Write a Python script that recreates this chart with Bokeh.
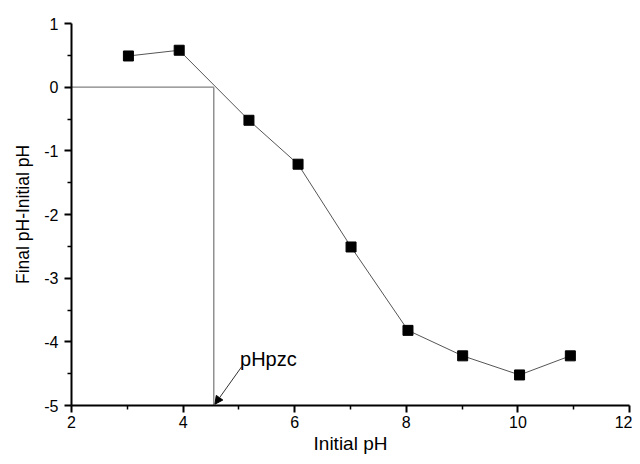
from bokeh.plotting import figure
from bokeh.models import Range1d, Arrow, NormalHead, Label, FixedTicker
from bokeh.embed import file_html
from bokeh.resources import INLINE

initial_ph = [3.02, 3.93, 5.18, 6.06, 7.01, 8.03, 9.01, 10.03, 10.94]
delta_ph = [0.49, 0.58, -0.52, -1.21, -2.51, -3.82, -4.22, -4.52, -4.22]
ph_pzc = 4.55
x_ticks = [2, 4, 6, 8, 10, 12]
y_ticks = [-5, -4, -3, -2, -1, 0, 1]

FONT = "Liberation Sans"

p = figure(width=632, height=456, output_backend="svg", toolbar_location=None,
           x_range=Range1d(2, 12), y_range=Range1d(-5, 1),
           min_border_left=71, min_border_right=3, min_border_top=23, min_border_bottom=51)
p.outline_line_color = None
p.xgrid.visible = False
p.ygrid.visible = False
p.background_fill_color = "white"

# reference lines for pHpzc
p.line([2, ph_pzc], [0, 0], line_color="#808080", line_width=1.3)
p.line([ph_pzc, ph_pzc], [0, -5], line_color="#808080", line_width=1.3)

p.line(initial_ph, delta_ph, line_color="#555555", line_width=1)
p.scatter(initial_ph, delta_ph, marker="square", size=10, fill_color="black", line_color="black")

p.add_layout(Arrow(end=NormalHead(size=8, fill_color="black", line_color="black", line_width=1),
                   x_start=5.05, y_start=-4.39, x_end=ph_pzc + 0.02, y_end=-4.98,
                   line_color="#333333", line_width=1))
p.add_layout(Label(x=5.02, y=-4.27, text="pHpzc", text_font=FONT, text_font_size="20px",
                   text_baseline="middle", text_align="left", text_color="black"))

for ax in (p.xaxis[0], p.yaxis[0]):
    ax.axis_line_width = 2
    ax.axis_line_color = "black"
    ax.major_tick_line_width = 2
    ax.minor_tick_line_width = 1.5
    ax.major_tick_out = 7
    ax.major_tick_in = 0
    ax.minor_tick_out = 4
    ax.minor_tick_in = 0
    ax.major_label_text_font = FONT
    ax.major_label_text_font_size = "16px"
    ax.major_label_text_color = "black"
    ax.axis_label_text_font = FONT
    ax.axis_label_text_font_style = "normal"
    ax.axis_label_text_color = "black"

p.xaxis.axis_label_text_font_size = "19px"
p.yaxis.axis_label_text_font_size = "17.5px"
p.xaxis.ticker = FixedTicker(ticks=x_ticks, minor_ticks=[3, 5, 7, 9, 11])
p.yaxis.ticker = FixedTicker(ticks=y_ticks, minor_ticks=[-4.5, -3.5, -2.5, -1.5, -0.5, 0.5])
p.xaxis.major_label_overrides = {t: str(t) for t in x_ticks}
p.yaxis.major_label_overrides = {t: str(t) for t in y_ticks}
p.xaxis.axis_label = "Initial pH"
p.yaxis.axis_label = "Final pH-Initial pH"
p.xaxis.major_label_standoff = 3
p.yaxis.major_label_standoff = 6
p.xaxis.axis_label_standoff = 2
p.yaxis.axis_label_standoff = 8

open("out.html", "w").write(file_html(p, INLINE))
